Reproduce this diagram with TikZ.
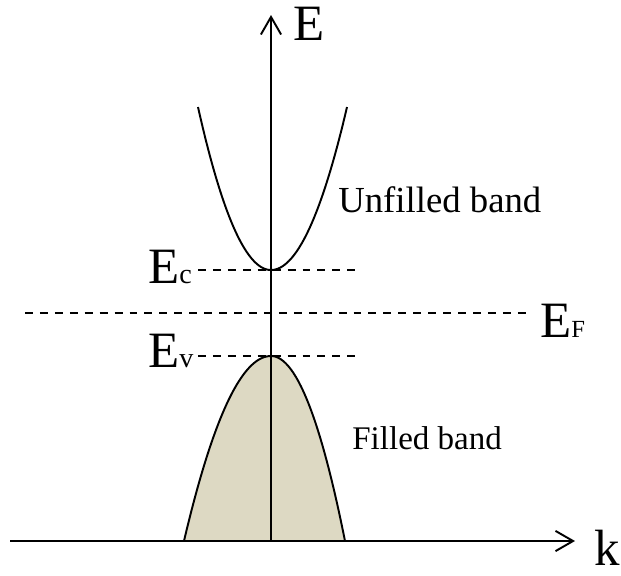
\documentclass[tikz,border=0pt]{standalone}
\usepackage{fontspec}
\setmainfont{Liberation Serif}
\usepackage{xcolor}
\usetikzlibrary{arrows.meta}
\definecolor{bandfill}{RGB}{221,217,195}
\newcommand{\lvlsub}[1]{{\fontsize{16}{16}\selectfont #1}}

\begin{document}
\begin{tikzpicture}[
    x=0.02cm, y=-0.02cm,
    axis/.style={line width=1.3pt,
                 -{Straight Barb[length=10pt, width=11.5pt, line width=1.1pt]}},
    band/.style={line width=1.1pt},
    level/.style={dashed, dash pattern=on 4.5pt off 4pt, line width=1.15pt},
    biglbl/.style={font=\fontsize{29}{32}\selectfont, anchor=base west, inner sep=0pt},
    txtlbl/.style={anchor=base west, inner sep=0pt}
]
\useasboundingbox (0,0) rectangle (621,575);

\coordinate (origin) at (271,541);
\coordinate (kstart) at (10,541);
\coordinate (kend)   at (575,541);
\coordinate (Etop)   at (271,15);
\coordinate (EcL) at (198,270);
\coordinate (EcR) at (355,270);
\coordinate (EvL) at (198,356);
\coordinate (EvR) at (355,356);
\coordinate (EFL) at (25,313);
\coordinate (EFR) at (532,313);

% filled valence band
\fill[bandfill]
    plot[domain=184:271, samples=60] (\x, {356+185/7569*(\x-271)^2})
    -- plot[domain=271:345, samples=60] (\x, {356+185/5476*(\x-271)^2})
    -- cycle;

\draw[level] (EcL) -- (EcR);
\draw[level] (EvL) -- (EvR);
\draw[level] (EFL) -- (EFR);

% conduction band
\draw[band]
    plot[domain=198:271, samples=60] (\x, {270-163/5329*(\x-271)^2})
    -- plot[domain=271:347, samples=60] (\x, {270-163/5776*(\x-271)^2});
% valence band
\draw[band]
    plot[domain=184:271, samples=60] (\x, {356+185/7569*(\x-271)^2})
    -- plot[domain=271:345, samples=60] (\x, {356+185/5476*(\x-271)^2});

\draw[axis] (kstart) -- (kend);
\draw[axis] (origin) -- (Etop);

\node[biglbl] (Elbl)  at (293,40)  {E};
\node[biglbl] (klbl)  at (594,565) {k};
\node[biglbl] (Eclbl) at (148,283) {E\lvlsub{c}};
\node[biglbl] (Evlbl) at (148,367) {E\lvlsub{v}};
\node[biglbl] (EFlbl) at (540,337) {E{\fontsize{14}{14}\selectfont F}};
\node[txtlbl, font=\fontsize{20.9}{24}\selectfont] (unfilled) at (338,212) {Unfilled band};
\node[txtlbl, font=\fontsize{18.8}{22}\selectfont] (filled)   at (352,449) {Filled band};
\end{tikzpicture}
\end{document}
